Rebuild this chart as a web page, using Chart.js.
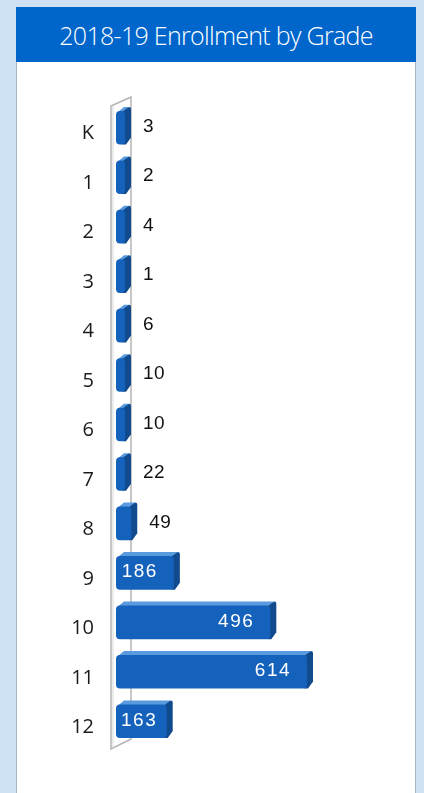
<!DOCTYPE html>
<html>
<head>
<meta charset="utf-8">
<script src="https://cdn.jsdelivr.net/npm/chart.js@4"></script>
<style>
  html, body { margin: 0; padding: 0; }
  body { width: 424px; height: 793px; background: #cfe2f3; position: relative; overflow: hidden; }
  #panel { position: absolute; left: 16px; top: 7px; width: 398px; height: 786px; background: #fff;
           border-left: 1px solid #a9b4bf; border-right: 1px solid #a9b4bf; }
  #header { position: absolute; left: 16px; top: 7px; width: 400px; height: 55px; background: #0066cc;
            color: #fff; font-family: "Open Sans", "Noto Sans", sans-serif; font-size: 25px; font-weight: 300;
            line-height: 57px; text-align: center; letter-spacing: -0.7px; }
  #wrap { position: absolute; left: 0; top: 0; width: 424px; height: 793px; }
</style>
</head>
<body>
<div id="panel"></div>
<div id="header">2018-19 Enrollment by Grade</div>
<div id="wrap"><canvas id="c" width="424" height="793"></canvas></div>
<script>
const grades = ['K', '1', '2', '3', '4', '5', '6', '7', '8', '9', '10', '11', '12'];
const enrollment = [3, 2, 4, 1, 6, 10, 10, 22, 49, 186, 496, 614, 163];
const xMax = 900;

const DX = 6, DY = 4;

const wallPlugin = {
  id: 'wall3d',
  beforeDatasetsDraw(chart) {
    const ctx = chart.ctx;
    const x0 = chart.scales.x.getPixelForValue(0);
    const top = chart.chartArea.top, bottom = chart.chartArea.bottom;
    const l = x0 - 5, r = x0 + 15;
    ctx.save();
    ctx.beginPath();
    ctx.moveTo(l, top + 3);
    ctx.lineTo(r, top - 6);
    ctx.lineTo(r, bottom - 7);
    ctx.lineTo(l, bottom + 3);
    ctx.closePath();
    ctx.fillStyle = '#ffffff';
    ctx.fill();
    ctx.strokeStyle = '#b5b5b5';
    ctx.lineWidth = 1.5;
    ctx.stroke();
    ctx.beginPath();
    ctx.moveTo(l + 2, top + 3);
    ctx.lineTo(l + 2, bottom + 2);
    ctx.strokeStyle = '#d8d8d8';
    ctx.lineWidth = 1;
    ctx.stroke();
    const meta = chart.getDatasetMeta(0);
    meta.data.forEach((bar) => {
      const p = bar.getProps(['x', 'y', 'base', 'height'], true);
      const t = p.y - p.height / 2, b = p.y + p.height / 2;
      const xe = p.x, xs = p.base;
      ctx.beginPath();
      ctx.moveTo(xs + 2, t + 1);
      ctx.lineTo(xs + 2 + DX, t - DY);
      ctx.lineTo(xe + DX - 2, t - DY);
      ctx.lineTo(xe, t + 1);
      ctx.closePath();
      ctx.fillStyle = '#5a9be0';
      ctx.fill();
      ctx.beginPath();
      ctx.moveTo(xe - 3, t + 1);
      ctx.lineTo(xe + DX - 2, t - DY);
      ctx.quadraticCurveTo(xe + DX, t - DY, xe + DX, t - DY + 2);
      ctx.lineTo(xe + DX, b - DY - 3);
      ctx.lineTo(xe + 1, b);
      ctx.lineTo(xe - 3, b);
      ctx.closePath();
      ctx.fillStyle = '#114b8e';
      ctx.fill();
    });
    ctx.restore();
  }
};

const labelPlugin = {
  id: 'valueLabels',
  afterDatasetsDraw(chart) {
    const ctx = chart.ctx;
    const meta = chart.getDatasetMeta(0);
    ctx.save();
    ctx.font = '19px "Liberation Sans", Arial, sans-serif';
    ctx.textBaseline = 'middle';
    ctx.textAlign = 'left';
    meta.data.forEach((bar, i) => {
      const p = bar.getProps(['x', 'y', 'base'], true);
      const txt = String(enrollment[i]);
      const len = p.x - p.base;
      if (len > 45) {
        ctx.letterSpacing = '1.5px';
        const w = ctx.measureText(txt).width;
        ctx.fillStyle = '#ffffff';
        let x = p.x - 16 - w;
        if (x < p.base + 5) x = p.base + 5;
        ctx.fillText(txt, x, p.y - 1);
      } else {
        ctx.letterSpacing = '0.5px';
        ctx.fillStyle = '#111111';
        ctx.fillText(txt, p.x + DX + 12, p.y - 1);
      }
    });
    ctx.restore();
  }
};

const ctx = document.getElementById('c').getContext('2d');

new Chart(ctx, {
  type: 'bar',
  data: {
    labels: grades,
    datasets: [{
      data: enrollment,
      backgroundColor: (c) => {
        const chart = c.chart;
        const el = c.element;
        if (!el || !chart.chartArea) return '#1562bd';
        const p = el.getProps(['y', 'height'], true);
        const t = p.y - p.height / 2, b = p.y + p.height / 2;
        if (!isFinite(t) || !isFinite(b) || b <= t) return '#1562bd';
        const g = chart.ctx.createLinearGradient(0, t, 0, b);
        g.addColorStop(0, '#2f7ed6');
        g.addColorStop(0.45, '#1866c4');
        g.addColorStop(1, '#0b4d9c');
        return g;
      },
      borderRadius: 4,
      borderSkipped: false,
      minBarLength: 9,
      barPercentage: 0.68,
      categoryPercentage: 1.0
    }]
  },
  options: {
    indexAxis: 'y',
    responsive: false,
    animation: false,
    layout: { padding: { top: 103, bottom: 47, left: 0, right: 28 } },
    plugins: { legend: { display: false }, title: { display: false }, tooltip: { enabled: false } },
    scales: {
      x: { display: false, min: 0, max: xMax },
      y: {
        grid: { display: false, drawTicks: false },
        border: { display: false },
        afterFit(scale) { scale.width = 116; },
        ticks: {
          padding: 22,
          labelOffset: 6,
          color: '#1a1a1a',
          font: { family: '"Open Sans", "Noto Sans", sans-serif', size: 20 }
        }
      }
    }
  },
  plugins: [wallPlugin, labelPlugin]
});
</script>
</body>
</html>
